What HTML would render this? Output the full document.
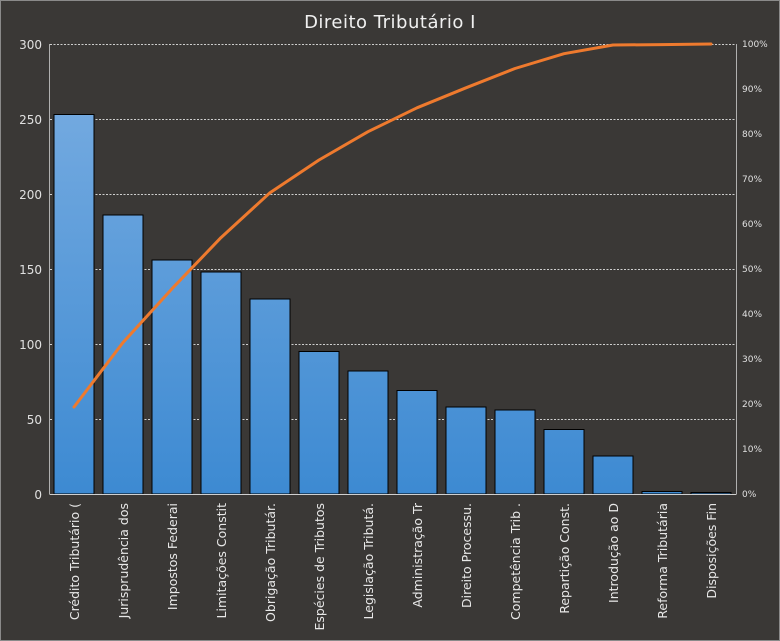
<!DOCTYPE html>
<html><head><meta charset="utf-8"><style>
html,body{margin:0;padding:0;background:#3a3836;}
svg{display:block;font-family:"DejaVu Sans","Liberation Sans",sans-serif;}
</style></head><body>
<svg width="780" height="641" viewBox="0 0 780 641" xmlns="http://www.w3.org/2000/svg">
<defs>
<linearGradient id="g" gradientUnits="userSpaceOnUse" x1="0" y1="100" x2="0" y2="494">
<stop offset="0" stop-color="#74aae0"/><stop offset="1" stop-color="#3d8ad2"/>
</linearGradient>
</defs>
<rect x="0" y="0" width="780" height="641" fill="#3a3836"/>
<rect x="0.5" y="0.5" width="779" height="640" fill="none" stroke="#8a8a8a" stroke-width="1"/>
<text x="390" y="28" fill="#f0f0f0" font-size="18" text-anchor="middle" letter-spacing="0.5">Direito Tributário I</text>
<g stroke="#cfcfcf" stroke-width="1" stroke-dasharray="2,1.5">
<line x1="50" y1="44.5" x2="737" y2="44.5"/>
<line x1="50" y1="119.5" x2="737" y2="119.5"/>
<line x1="50" y1="194.5" x2="737" y2="194.5"/>
<line x1="50" y1="269.5" x2="737" y2="269.5"/>
<line x1="50" y1="344.5" x2="737" y2="344.5"/>
<line x1="50" y1="419.5" x2="737" y2="419.5"/>
</g>
<g stroke="#b0b0b0" stroke-width="1">
<line x1="49.5" y1="44" x2="49.5" y2="494"/>
<line x1="736.5" y1="44" x2="736.5" y2="494"/>
</g>
<g fill="#e0e0e0" font-size="12" text-anchor="end">
<text x="42" y="49">300</text><text x="42" y="124">250</text><text x="42" y="199">200</text>
<text x="42" y="274">150</text><text x="42" y="349">100</text><text x="42" y="424">50</text><text x="42" y="499">0</text>
</g>
<g fill="#e0e0e0" font-size="9">
<text x="742" y="47">100%</text><text x="742" y="92">90%</text><text x="742" y="137">80%</text>
<text x="742" y="182">70%</text><text x="742" y="227">60%</text><text x="742" y="272">50%</text>
<text x="742" y="317">40%</text><text x="742" y="362">30%</text><text x="742" y="407">20%</text>
<text x="742" y="452">10%</text><text x="742" y="497">0%</text>
</g>
<g fill="url(#g)" stroke="#000" stroke-width="1">
<rect x="54" y="114.5" width="40" height="379.5"/>
<rect x="103" y="215" width="40" height="279"/>
<rect x="152" y="260" width="40" height="234"/>
<rect x="201" y="272" width="40" height="222"/>
<rect x="250" y="299" width="40" height="195"/>
<rect x="299" y="351.5" width="40" height="142.5"/>
<rect x="348" y="371" width="40" height="123"/>
<rect x="397" y="390.5" width="40" height="103.5"/>
<rect x="446" y="407" width="40" height="87"/>
<rect x="495" y="410" width="40" height="84"/>
<rect x="544" y="429.5" width="40" height="64.5"/>
<rect x="593" y="456" width="40" height="38"/>
<rect x="642" y="491.5" width="40" height="2.5"/>
<rect x="691" y="492.5" width="40" height="1.5"/>
</g>
<line x1="49.5" y1="494.5" x2="736.5" y2="494.5" stroke="#d0d0d0" stroke-width="1"/>
<polyline fill="none" stroke="#ee7a2e" stroke-width="3" stroke-linejoin="round" stroke-linecap="round"
points="74,407 123,342.5 172,288.7 221,237.6 270,192.7 319,160 368,131.7 417,107.8 466,87.8 515,68.5 564,53.7 613,45 662,44.6 711,44"/>
<g fill="#e8e8e8" font-size="12.5" text-anchor="end">
<text transform="translate(79,503) rotate(-90)">Crédito Tributário (</text>
<text transform="translate(128,503) rotate(-90)">Jurisprudência dos</text>
<text transform="translate(177,503) rotate(-90)">Impostos Federai</text>
<text transform="translate(226,503) rotate(-90)">Limitações Constit</text>
<text transform="translate(275,503) rotate(-90)">Obrigação Tributár.</text>
<text transform="translate(324,503) rotate(-90)">Espécies de Tributos</text>
<text transform="translate(373,503) rotate(-90)">Legislação Tributá.</text>
<text transform="translate(422,503) rotate(-90)">Administração Tr</text>
<text transform="translate(471,503) rotate(-90)">Direito Processu.</text>
<text transform="translate(520,503) rotate(-90)">Competência Trib .</text>
<text transform="translate(569,503) rotate(-90)">Repartição Const.</text>
<text transform="translate(618,503) rotate(-90)">Introdução  ao D</text>
<text transform="translate(667,503) rotate(-90)">Reforma Tributária</text>
<text transform="translate(716,503) rotate(-90)">Disposições Fin</text>
</g>
</svg>
</body></html>
